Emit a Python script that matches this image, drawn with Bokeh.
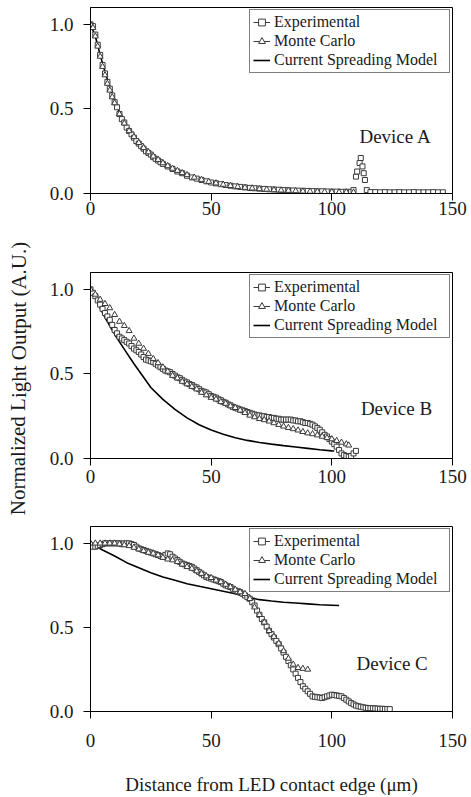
from bokeh.plotting import figure
from bokeh.layouts import column, row
from bokeh.models import Legend, LegendItem, Label, PrintfTickFormatter, ColumnDataSource
from bokeh.embed import file_html
from bokeh.resources import INLINE

# ---------------- Data ----------------
# Panel (a) Device A
a_exp_x = [0, 1, 2, 3, 4, 5, 6, 7, 8, 9, 10, 11, 12, 13, 14, 15, 16, 17, 18, 19, 20,
           21, 22, 23, 24, 25, 26, 27, 28, 29, 30, 32, 34, 36, 38, 40, 42, 44, 46, 48,
           50, 52, 54, 56, 58, 60, 62, 64, 66, 68, 70, 72, 74, 76, 78, 80, 82, 84, 86,
           88, 90, 92, 94, 96, 98, 100, 102, 104, 106, 108, 109, 110, 110.5, 111.5, 112,
           112.7, 113.2, 113.7, 114.5, 116, 118, 120, 122, 124, 126, 128, 130, 132, 134,
           136, 138, 140, 142, 144, 146]
a_exp_y = [1.00, 0.99, 0.94, 0.88, 0.82, 0.76, 0.71, 0.66, 0.62, 0.58, 0.54, 0.51, 0.47,
           0.44, 0.42, 0.39, 0.37, 0.35, 0.33, 0.31, 0.295, 0.28, 0.265, 0.25, 0.24, 0.23,
           0.215, 0.205, 0.195, 0.185, 0.175, 0.16, 0.145, 0.13, 0.12, 0.105, 0.095, 0.088,
           0.08, 0.072, 0.065, 0.06, 0.055, 0.05, 0.046, 0.042, 0.039, 0.036, 0.033, 0.031,
           0.029, 0.027, 0.025, 0.024, 0.022, 0.02, 0.019, 0.018, 0.017, 0.016, 0.015,
           0.014, 0.013, 0.013, 0.012, 0.011, 0.011, 0.01, 0.01, 0.01, 0.02, 0.10, 0.13,
           0.18, 0.21, 0.16, 0.12, 0.08, 0.02, 0.008, 0.008, 0.007, 0.008, 0.007, 0.007,
           0.008, 0.007, 0.007, 0.008, 0.007, 0.007, 0.007, 0.008, 0.007, 0.007]
a_mc_x = [0, 1, 2, 3, 4, 5, 6, 7, 8, 9, 10, 12, 14, 16, 18, 20, 22, 24, 26, 28, 30, 32, 34,
          36, 38, 40, 43, 46, 49, 52, 55, 58, 61, 64, 67, 70, 73, 76, 79, 82, 85, 88, 91,
          94, 97, 100, 103, 106, 109]
a_mc_y = [1.0, 0.98, 0.93, 0.87, 0.81, 0.75, 0.70, 0.65, 0.61, 0.57, 0.535, 0.47, 0.415,
          0.37, 0.335, 0.30, 0.27, 0.245, 0.22, 0.20, 0.18, 0.163, 0.148, 0.135, 0.122,
          0.11, 0.095, 0.082, 0.07, 0.061, 0.053, 0.046, 0.04, 0.035, 0.031, 0.027, 0.024,
          0.021, 0.019, 0.017, 0.015, 0.013, 0.012, 0.011, 0.01, 0.009, 0.008, 0.008, 0.007]
a_csm_x = [0, 2, 4, 6, 8, 10, 12, 15, 18, 21, 25, 30, 35, 40, 45, 50, 55, 60, 70, 80, 90, 100, 105]
a_csm_y = [1.0, 0.93, 0.82, 0.72, 0.63, 0.55, 0.48, 0.40, 0.34, 0.29, 0.235, 0.18, 0.14,
           0.11, 0.088, 0.07, 0.056, 0.045, 0.03, 0.02, 0.014, 0.01, 0.009]

# Panel (b) Device B
b_exp_x = list(range(0, 111))
b_exp_y = [1.00, 0.98, 0.96, 0.935, 0.91, 0.885, 0.86, 0.84, 0.82, 0.79, 0.76, 0.74, 0.72,
           0.71, 0.70, 0.69, 0.68, 0.665, 0.65, 0.64, 0.63, 0.615, 0.60, 0.585, 0.58, 0.575,
           0.57, 0.56, 0.55, 0.54, 0.53, 0.52, 0.515, 0.51, 0.50, 0.49, 0.48, 0.475, 0.465,
           0.455, 0.45, 0.44, 0.435, 0.425, 0.42, 0.41, 0.40, 0.395, 0.39, 0.38, 0.37, 0.365,
           0.36, 0.35, 0.345, 0.335, 0.33, 0.32, 0.315, 0.305, 0.30, 0.295, 0.29, 0.285,
           0.28, 0.275, 0.27, 0.265, 0.26, 0.255, 0.255, 0.25, 0.25, 0.245, 0.245, 0.24,
           0.24, 0.235, 0.235, 0.23, 0.23, 0.23, 0.23, 0.23, 0.225, 0.225, 0.22, 0.22, 0.215,
           0.21, 0.21, 0.205, 0.20, 0.19, 0.18, 0.17, 0.155, 0.14, 0.13, 0.115, 0.10, 0.085,
           0.07, 0.05, 0.03, 0.02, 0.015, 0.01, 0.015, 0.03, 0.045]
b_mc_x = [0, 2, 4, 6, 8, 10, 12, 14, 16, 18, 20, 22, 24, 26, 28, 30, 32, 34, 36, 38, 40, 42,
          44, 46, 48, 50, 52, 54, 56, 58, 60, 62, 64, 66, 68, 70, 72, 74, 76, 78, 80, 82, 84,
          86, 88, 90, 92, 94, 96, 98, 100, 102, 104, 106, 107]
b_mc_y = [1.0, 0.97, 0.94, 0.915, 0.89, 0.85, 0.81, 0.785, 0.755, 0.71, 0.68, 0.65, 0.62,
          0.59, 0.565, 0.54, 0.515, 0.49, 0.475, 0.455, 0.44, 0.425, 0.41, 0.39, 0.375, 0.36,
          0.35, 0.335, 0.325, 0.31, 0.30, 0.285, 0.27, 0.255, 0.245, 0.235, 0.228, 0.22,
          0.21, 0.20, 0.19, 0.182, 0.175, 0.167, 0.158, 0.15, 0.145, 0.138, 0.13, 0.122,
          0.115, 0.105, 0.095, 0.085, 0.078]
b_csm_x = [0, 2, 4, 6, 8, 10, 12, 15, 18, 20, 22, 25, 30, 35, 40, 45, 50, 55, 60, 65, 70,
           75, 80, 85, 90, 95, 100, 101]
b_csm_y = [1.0, 0.95, 0.89, 0.835, 0.785, 0.735, 0.69, 0.625, 0.56, 0.52, 0.48, 0.42,
           0.35, 0.29, 0.24, 0.2, 0.168, 0.143, 0.123, 0.107, 0.095, 0.085, 0.076, 0.068,
           0.06, 0.052, 0.045, 0.044]

# Panel (c) Device C
c_exp_x = list(range(0, 125))
c_exp_y = [0.99, 0.98, 0.98, 0.985, 0.99, 0.995, 1.0, 1.0, 1.0, 1.0, 1.0, 1.0, 1.0, 0.995,
           1.0, 1.0, 1.0, 0.995, 0.99, 0.98, 0.97, 0.965, 0.96, 0.955, 0.95, 0.945, 0.94,
           0.935, 0.93, 0.925, 0.92, 0.93, 0.94, 0.935, 0.92, 0.91, 0.90, 0.89, 0.88, 0.875,
           0.87, 0.865, 0.86, 0.85, 0.84, 0.83, 0.82, 0.81, 0.80, 0.795, 0.79, 0.785, 0.78,
           0.775, 0.77, 0.76, 0.75, 0.745, 0.74, 0.73, 0.72, 0.715, 0.71, 0.70, 0.69, 0.68,
           0.67, 0.65, 0.63, 0.60, 0.575, 0.55, 0.53, 0.505, 0.48, 0.46, 0.44, 0.42, 0.40,
           0.375, 0.35, 0.325, 0.30, 0.275, 0.25, 0.225, 0.20, 0.175, 0.15, 0.135, 0.12,
           0.105, 0.09, 0.087, 0.085, 0.083, 0.08, 0.085, 0.09, 0.095, 0.10, 0.098, 0.095,
           0.093, 0.09, 0.08, 0.07, 0.06, 0.05, 0.042, 0.035, 0.031, 0.028, 0.025, 0.022,
           0.021, 0.02, 0.019, 0.018, 0.017, 0.016, 0.016, 0.015, 0.015, 0.014]
c_mc_x = [0, 2, 4, 6, 8, 10, 12, 14, 16, 18, 20, 22, 24, 26, 28, 30, 32, 34, 36, 38, 40, 42,
          44, 46, 48, 50, 52, 54, 56, 58, 60, 62, 64, 66, 68, 70, 72, 74, 76, 78, 80, 82, 84,
          86, 88, 90]
c_mc_y = [1.0, 1.0, 1.0, 1.0, 1.0, 1.0, 0.995, 0.99, 0.985, 0.975, 0.965, 0.955, 0.945,
          0.94, 0.93, 0.915, 0.905, 0.90, 0.89, 0.875, 0.86, 0.85, 0.835, 0.82, 0.805,
          0.795, 0.78, 0.77, 0.755, 0.74, 0.725, 0.71, 0.70, 0.67, 0.62, 0.575, 0.53, 0.48,
          0.445, 0.405, 0.36, 0.315, 0.28, 0.26, 0.255, 0.25]
c_csm_x = [0, 5, 10, 15, 20, 25, 30, 35, 40, 45, 50, 55, 60, 65, 70, 75, 80, 85, 90, 95, 100, 103]
c_csm_y = [1.0, 0.96, 0.925, 0.885, 0.855, 0.825, 0.80, 0.78, 0.76, 0.745, 0.73, 0.715,
           0.70, 0.68, 0.665, 0.657, 0.65, 0.645, 0.64, 0.635, 0.632, 0.63]

x_ticks = [0, 50, 100, 150]
y_ticks = [0, 0.5, 1.0]
legend_labels = ["Experimental", "Monte Carlo", "Current Spreading Model"]
panel_tags = ["(a)", "(b)", "(c)"]
device_names = ["Device A", "Device B", "Device C"]
y_title = "Normalized Light Output (A.U.)"
x_title = "Distance from LED contact edge (\u03bcm)"

FONT = "Liberation Serif"
INK = "#1a1a1a"
MARK = "#3a3a3a"
LABEL_W = 36
TOTAL_H = 797


def make_panel(exp_x, exp_y, mc_x, mc_y, csm_x, csm_y, tag, device, dev_xy, tag_xy,
               height, top, bottom, xlab_standoff, xlabel=None):
    p = figure(width=471 - LABEL_W, height=height, x_range=(0, 150), y_range=(0, 1.1),
               output_backend="svg", toolbar_location=None, title=None,
               min_border_left=90 - LABEL_W, min_border_right=19, min_border_top=top,
               min_border_bottom=bottom)
    p.background_fill_color = "white"
    p.border_fill_color = "white"
    p.outline_line_color = "black"
    p.outline_line_width = 1
    p.xgrid.visible = False
    p.ygrid.visible = False

    for ax in (p.xaxis, p.yaxis):
        ax.axis_line_color = "black"
        ax.major_tick_line_color = "black"
        ax.minor_tick_line_color = None
        ax.major_tick_out = 7
        ax.major_tick_in = 0
        ax.major_label_text_font = FONT
        ax.major_label_text_font_size = "19px"
        ax.major_label_text_color = INK
    p.xaxis.ticker = x_ticks
    p.yaxis.ticker = y_ticks
    p.yaxis.formatter = PrintfTickFormatter(format="%.1f")
    p.xaxis.major_label_standoff = xlab_standoff
    p.yaxis.major_label_standoff = 10

    if xlabel:
        p.xaxis.axis_label = xlabel
        p.xaxis.axis_label_text_font = FONT
        p.xaxis.axis_label_text_font_size = "19px"
        p.xaxis.axis_label_text_font_style = "normal"
        p.xaxis.axis_label_text_color = INK
        p.xaxis.axis_label_standoff = 24

    csm = p.line(csm_x, csm_y, line_color="black", line_width=1.6)
    exp = p.scatter(exp_x, exp_y, marker="square", size=5, line_color=MARK,
                    fill_color="white", line_width=1)
    mc = p.scatter(mc_x, mc_y, marker="triangle", size=6, line_color=MARK,
                   fill_color="white", line_width=1)
    # legend-only line strokes for the marker entries (placed outside the visible range)
    off = ColumnDataSource(data=dict(x=[-20, -10], y=[-1, -1]))
    exp_l = p.line("x", "y", source=off, line_color=MARK, line_width=1)
    mc_l = p.line("x", "y", source=off, line_color=MARK, line_width=1)

    legend = Legend(items=[LegendItem(label=legend_labels[0], renderers=[exp_l, exp]),
                           LegendItem(label=legend_labels[1], renderers=[mc_l, mc]),
                           LegendItem(label=legend_labels[2], renderers=[csm])],
                    location="top_right", margin=2, padding=3, spacing=1,
                    label_height=18, glyph_height=18, glyph_width=17,
                    label_standoff=4, label_width=172,
                    label_text_font=FONT, label_text_font_size="16px",
                    label_text_color=INK, border_line_color="black",
                    border_line_width=1, background_fill_color="white",
                    background_fill_alpha=1.0)
    p.add_layout(legend)

    p.add_layout(Label(x=tag_xy[0], y=tag_xy[1], text=tag, text_align="center",
                       text_baseline="middle", text_font=FONT, text_font_size="16px",
                       text_color=INK))
    p.add_layout(Label(x=dev_xy[0], y=dev_xy[1], text=device, text_align="center",
                       text_baseline="middle", text_font=FONT, text_font_size="19px",
                       text_color=INK))
    return p


pA = make_panel(a_exp_x, a_exp_y, a_mc_x, a_mc_y, a_csm_x, a_csm_y,
                panel_tags[0], device_names[0], (126.4, 0.34), (143, 1.013),
                height=250, top=7, bottom=57, xlab_standoff=1)
pB = make_panel(b_exp_x, b_exp_y, b_mc_x, b_mc_y, b_csm_x, b_csm_y,
                panel_tags[1], device_names[1], (126.8, 0.296), (144, 0.994),
                height=250, top=22, bottom=42, xlab_standoff=4)
pC = make_panel(c_exp_x, c_exp_y, c_mc_x, c_mc_y, c_csm_x, c_csm_y,
                panel_tags[2], device_names[2], (125, 0.284), (142, 1.008),
                height=297, top=26, bottom=85, xlab_standoff=15, xlabel=x_title)

# narrow strip carrying the shared y-axis title
ylab = figure(width=LABEL_W, height=TOTAL_H, x_range=(0, LABEL_W), y_range=(0, TOTAL_H),
              x_axis_type=None, y_axis_type=None, output_backend="svg",
              toolbar_location=None, title=None, min_border=0)
ylab.outline_line_color = None
ylab.xgrid.visible = False
ylab.ygrid.visible = False
ylab.add_layout(Label(x=18, y=TOTAL_H - 378, text=y_title, angle=1.5707963,
                      text_align="center", text_baseline="middle", text_font=FONT,
                      text_font_size="21px", text_color=INK))

layout = row(ylab, column(pA, pB, pC, spacing=0), spacing=0)
open("out.html", "w").write(file_html(layout, INLINE))
